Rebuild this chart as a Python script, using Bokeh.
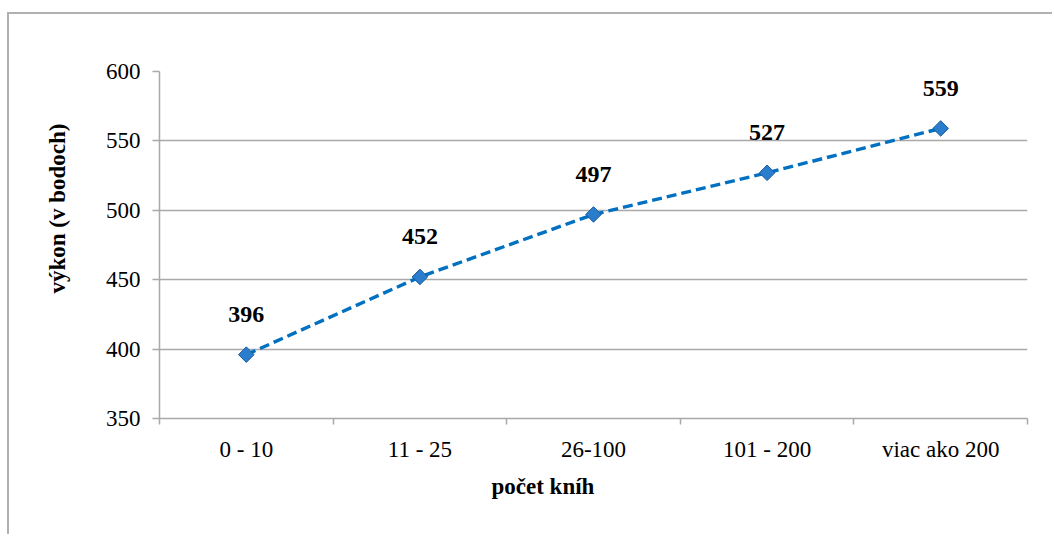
from bokeh.plotting import figure
from bokeh.models import (ColumnDataSource, FixedTicker, LabelSet, Title, Range1d)
from bokeh.core.properties import value
from bokeh.embed import file_html
from bokeh.resources import INLINE
import math

categories = ["0 - 10", "11 - 25", "26-100", "101 - 200", "viac ako 200"]
scores = [396, 452, 497, 527, 559]
y_ticks = [350, 400, 450, 500, 550, 600]
x_title = "počet kníh"
y_title = "výkon (v bodoch)"

FONT = "Liberation Serif"
GRAY = "#a9a9a9"

xs = [i + 0.5 for i in range(len(categories))]
src = ColumnDataSource(dict(x=xs, y=scores, lab=[str(v) for v in scores]))

p = figure(width=1045, height=522, output_backend="svg", toolbar_location=None,
           x_range=Range1d(0, len(categories)), y_range=Range1d(y_ticks[0], y_ticks[-1]),
           min_border_left=149, min_border_right=27, min_border_top=57, min_border_bottom=118)
p.margin = (12, 0, 0, 7)
p.styles = {"border-left": "2px solid #b0b0b0", "border-top": "2px solid #b0b0b0"}
p.outline_line_color = None
p.background_fill_color = "white"
p.border_fill_color = "white"

# axes
yax = p.yaxis[0]
yax.ticker = FixedTicker(ticks=y_ticks)
yax.major_tick_out = 7
yax.major_tick_in = 0
yax.minor_tick_line_color = None
yax.axis_line_color = GRAY
yax.axis_line_width = 1.5
yax.major_tick_line_color = GRAY
yax.major_tick_line_width = 1.5
yax.major_label_standoff = 12
yax.major_label_text_font = FONT
yax.major_label_text_font_size = "23px"
yax.major_label_text_color = "black"

xax = p.xaxis[0]
xax.ticker = FixedTicker(ticks=xs, minor_ticks=list(range(len(categories) + 1)))
xax.major_label_overrides = {x: c for x, c in zip(xs, categories)}
xax.major_tick_out = 0
xax.major_tick_in = 0
xax.minor_tick_out = 6
xax.minor_tick_in = 0
xax.minor_tick_line_color = GRAY
xax.minor_tick_line_width = 1.5
xax.axis_line_color = GRAY
xax.axis_line_width = 1.5
xax.major_label_standoff = 12
xax.major_label_text_font = FONT
xax.major_label_text_font_size = "23px"
xax.major_label_text_color = "black"

p.ygrid.ticker = FixedTicker(ticks=y_ticks)
p.ygrid.grid_line_color = GRAY
p.ygrid.grid_line_width = 1.5
p.xgrid.ticker = FixedTicker(ticks=[len(categories)])
p.xgrid.grid_line_color = GRAY
p.xgrid.grid_line_width = 1.5

# axis titles
p.add_layout(Title(text=x_title, align="left", offset=332, text_font=FONT,
                   text_font_size="23px", text_font_style="bold", text_color="black",
                   standoff=14), "below")
p.add_layout(Title(text=y_title, align="left", offset=125, text_font=FONT,
                   text_font_size="23px", text_font_style="bold", text_color="black",
                   standoff=66), "left")

# data
p.line("x", "y", source=src, line_color="#0070c0", line_width=3.4, line_dash="10 5")
p.scatter("x", "y", source=src, marker="square", size=11, angle=math.pi / 4,
          fill_color="#2a7ccc", line_color="#185a9c", line_width=1)
labels = LabelSet(x="x", y="y", text="lab", source=src, y_offset=40,
                  text_align="center", text_baseline="middle",
                  text_font=value(FONT), text_font_size="24px", text_font_style="bold",
                  text_color="black")
p.add_layout(labels)

open("out.html", "w").write(file_html(p, INLINE))
